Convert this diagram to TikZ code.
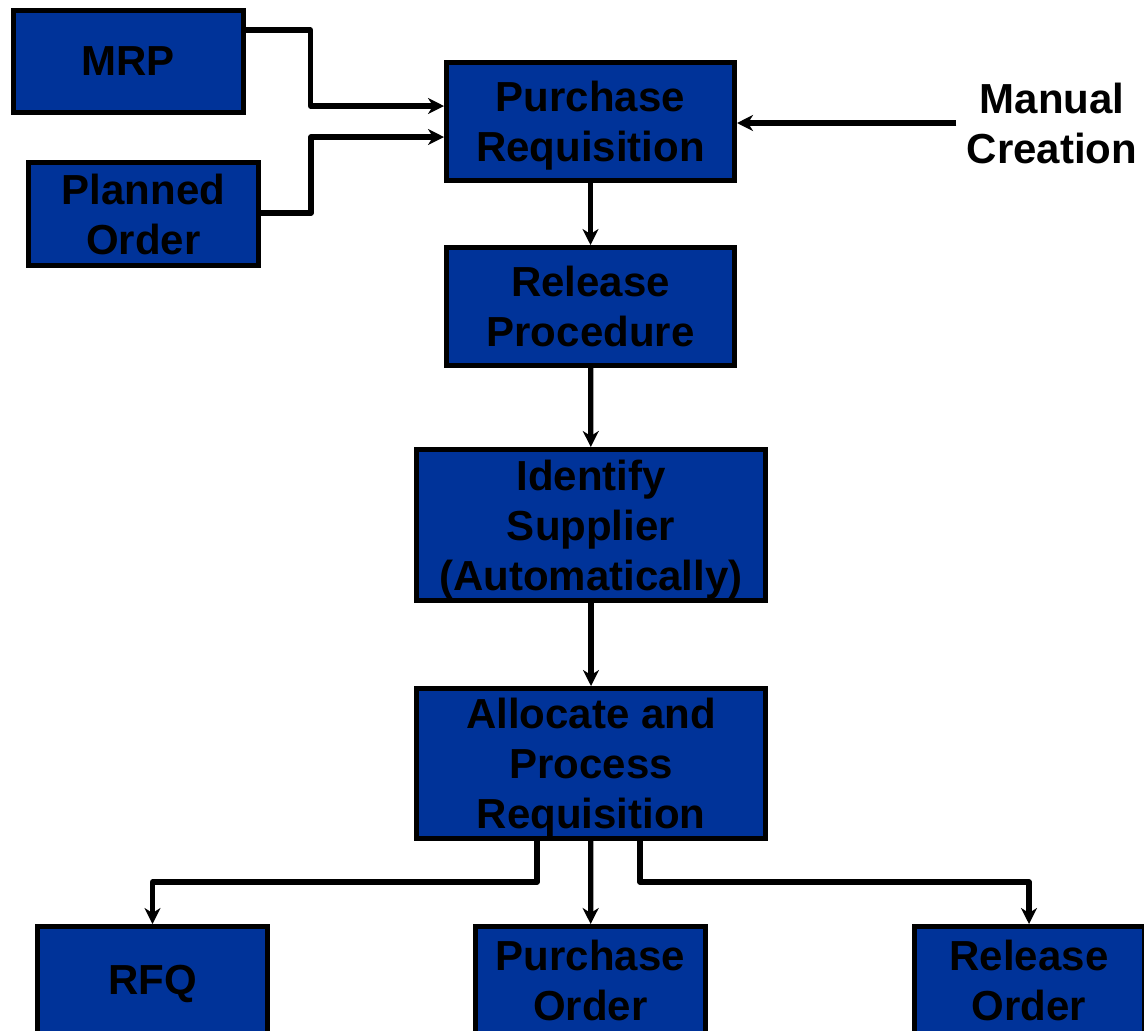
\documentclass[tikz,border=0pt]{standalone}
\usepackage{fontspec}
\setmainfont{Liberation Sans}
\usetikzlibrary{arrows.meta}
\definecolor{boxblue}{RGB}{0,51,153}
\begin{document}
\begin{tikzpicture}[x=0.5pt,y=-0.5pt,
  box/.style={draw=black, line width=2.5pt, fill=boxblue, inner sep=0pt,
    align=center, text depth=0pt, font=\fontsize{21}{25}\selectfont\bfseries},
  smallbox/.style={box, minimum width=115pt, minimum height=51.5pt},
  midbox/.style={box, minimum width=144pt, minimum height=59pt},
  widebox/.style={box, minimum width=174.5pt, minimum height=75.5pt},
  endbox/.style={box, minimum width=115pt, minimum height=53.5pt},
  arr/.style={line width=2.6pt, line join=round,
    -{Stealth[length=8pt,width=8pt,inset=2.5pt]}},
  lbl/.style={inner sep=5pt, align=center, font=\fontsize{21}{25}\selectfont\bfseries}]
\useasboundingbox (0,0) rectangle (1144,1030);

% sources
\node[smallbox, minimum height=51pt] (mrp) at (128,61) {MRP};
\node[smallbox] (plo) at (143.5,214) {Planned\\Order};
\node[lbl] (mc) at (1052,123) {Manual\\Creation};

% main chain
\node[midbox] (pr) at (590.5,121.5) {Purchase\\Requisition};
\node[midbox] (rp) at (590.5,306.5) {Release\\Procedure};
\node[widebox] (is) at (591,525) {Identify\\Supplier\\(Automatically)};
\node[widebox, minimum height=75pt] (al) at (591,763.5) {Allocate and\\Process\\Requisition};

% results
\node[endbox] (rfq) at (152.5,980) {RFQ};
\node[endbox] (po) at (590.5,980) {Purchase\\Order};
\node[endbox] (ro) at (1029,980) {Release\\Order};

% inputs into the requisition
\draw[arr] ([yshift=15.5pt]mrp.east) -- ++(65,0) |- ([yshift=7.75pt]pr.west);
\draw[arr] ([yshift=0.5pt]plo.east) -- ++(50,0) |- ([yshift=-7.75pt]pr.west);
\draw[arr] (mc.west) -- (mc.west -| pr.east);

% processing steps
\draw[arr] (pr) -- (rp);
\draw[arr] (rp) -- (is);
\draw[arr] (is) -- (al);

% outputs
\draw[arr] ([xshift=-27pt]al.south) -- ++(0,41) -| (rfq.north);
\draw[arr] (al) -- (po);
\draw[arr] ([xshift=24.5pt]al.south) -- ++(0,41) -| (ro.north);
\end{tikzpicture}
\end{document}
